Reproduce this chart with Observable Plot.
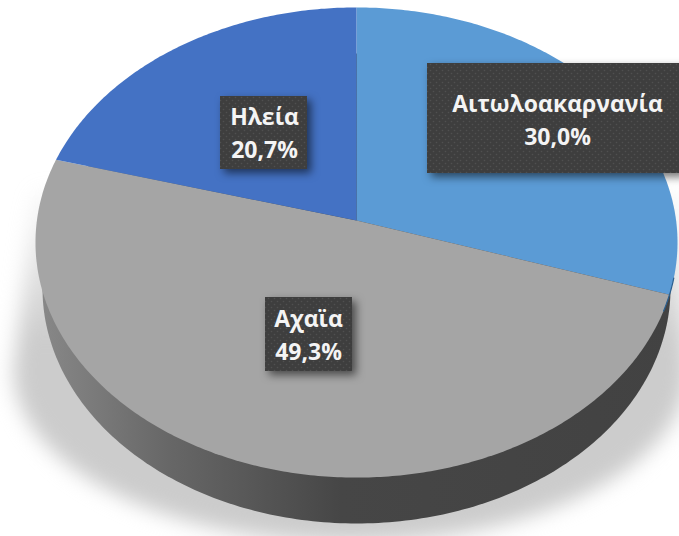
<!DOCTYPE html>
<html lang="el">
<head>
<meta charset="utf-8">
<script src="https://cdn.jsdelivr.net/npm/d3@7"></script>
<script src="https://cdn.jsdelivr.net/npm/@observablehq/plot@0.6"></script>
<style>
html,body{margin:0;padding:0;background:#fff;overflow:hidden}
svg{display:block}
</style>
</head>
<body>
<div id="chart"></div>
<script>
// Data (clockwise from twelve o'clock)
const categories = ["Αιτωλοακαρνανία", "Αχαϊα", "Ηλεία"];
const shares = [30.0, 49.3, 20.7];
const shareLabels = ["30,0%", "49,3%", "20,7%"];
const sliceColors = ["#5B9BD5", "#A5A5A5", "#4472C4"];

// Layout, in pixels
const W = 679, H = 536;
const apex = {x: 356, y: 220, a: 319.6, b: 233, k: -0.0936};
const baseEllipse = {x: 356, y: 288, rx: 314, ry: 235};
const shadowEllipse = {x: 350, y: 370, rx: 337, ry: 172};
const shadowTop = 190, shadowTopX = [34, 678];
const boxX1 = [427, 265, 220], boxX2 = [682, 352, 307];
const boxY1 = [63, 297, 96], boxY2 = [173, 371, 169];
const textX = [557, 308, 264], textY1 = [104, 319, 117], textY2 = [137, 352, 150];

// Pixel positions to the units of the plot's scales
const ux = px => (px - apex.x) / apex.a;
const uy = py => (py - apex.y) / apex.b;

// A pie angle (0 at the top, clockwise) seen in perspective
function onDisc(theta) {
  const X = Math.sin(theta), Y = -Math.cos(theta), d = 1 + apex.k * Y;
  return {x: X / d, y: Y / d};
}

// Slice outlines follow from the shares
const slices = [];
let cum = 0;
categories.forEach((category, i) => {
  const t0 = cum / 100 * 2 * Math.PI;
  cum += shares[i];
  const t1 = cum / 100 * 2 * Math.PI;
  const n = Math.ceil((t1 - t0) * 90);
  slices.push({category, x: 0, y: 0});
  for (let j = 0; j <= n; j++) slices.push({category, ...onDisc(t0 + (t1 - t0) * j / n)});
});

function ellipsePoints(e, from = 0, to = 360) {
  return d3.range(from, to + 1, 1).map(d => {
    const t = d * Math.PI / 180;
    return {x: ux(e.x + e.rx * Math.cos(t)), y: uy(e.y + e.ry * Math.sin(t))};
  });
}

// Shadow: a lower half ellipse that tapers up behind the pie
const shadowPoints = [
  {x: ux(shadowTopX[1]), y: uy(shadowTop)},
  ...ellipsePoints(shadowEllipse, 0, 180),
  {x: ux(shadowTopX[0]), y: uy(shadowTop)}
];

// The thin edge of the first slice where it meets the side wall
const edgeAngle = shares[0] / 100 * 2 * Math.PI;
const sideEdge = d3.range(-4, 4.5, 0.5).map(d => onDisc(edgeAngle + d * Math.PI / 180));

const labels = categories.map((category, i) => ({
  category, share: shareLabels[i],
  x1: ux(boxX1[i]), x2: ux(boxX2[i]), y1: uy(boxY1[i]), y2: uy(boxY2[i]),
  tx: ux(textX[i]), ty1: uy(textY1[i]), ty2: uy(textY2[i])
}));

const textStyle = {
  fill: "#f4f4f4", fontSize: 23, fontWeight: 700,
  fontFamily: "'Open Sans','Noto Sans',sans-serif",
  textAnchor: "middle", lineAnchor: "middle"
};

const svg = Plot.plot({
  width: W, height: H,
  margin: 0,
  style: {background: "#fff", overflow: "hidden"},
  x: {domain: [-1, 1], range: [apex.x - apex.a, apex.x + apex.a], axis: null},
  y: {domain: [-1, 1], range: [apex.y - apex.b, apex.y + apex.b], axis: null},
  color: {domain: categories, range: sliceColors},
  marks: [
    Plot.line(shadowPoints, {x: "x", y: "y", fill: "url(#shadowFade)", stroke: "none", imageFilter: "blur(10px)"}),
    Plot.line(ellipsePoints(baseEllipse), {x: "x", y: "y", fill: "url(#sideFade)", stroke: "none"}),
    Plot.line(slices, {x: "x", y: "y", z: "category", fill: "category", stroke: "none"}),
    Plot.line(sideEdge, {x: "x", y: "y", stroke: "#2a5f8f", strokeWidth: 1.2}),
    Plot.rect(labels, {x1: "x1", x2: "x2", y1: "y1", y2: "y2", fill: "url(#labelDots)",
      imageFilter: "drop-shadow(4px 4px 4px rgba(0,0,0,.55))"}),
    Plot.text(labels, {x: "tx", y: "ty1", text: "category", ...textStyle}),
    Plot.text(labels, {x: "tx", y: "ty2", text: "share", ...textStyle})
  ]
});

// Paint servers used by the fills above
const defs = d3.select(svg).insert("defs", ":first-child");
const side = defs.append("linearGradient").attr("id", "sideFade")
  .attr("gradientUnits", "userSpaceOnUse").attr("x1", 40).attr("x2", 680).attr("y1", 0).attr("y2", 0);
[[0, "#888888"], [0.2, "#676767"], [0.47, "#464646"], [1, "#424242"]].forEach(([o, c]) =>
  side.append("stop").attr("offset", o).attr("stop-color", c));
const fade = defs.append("linearGradient").attr("id", "shadowFade")
  .attr("gradientUnits", "userSpaceOnUse").attr("x1", 0).attr("x2", 0).attr("y1", 190).attr("y2", 340);
[[0, 0.1], [1, 1]].forEach(([o, a]) =>
  fade.append("stop").attr("offset", o).attr("stop-color", "#cccccc").attr("stop-opacity", a));
const dots = defs.append("pattern").attr("id", "labelDots")
  .attr("patternUnits", "userSpaceOnUse").attr("width", 6).attr("height", 6);
dots.append("rect").attr("width", 6).attr("height", 6).attr("fill", "#3e3e3e");
[[1.5, 1.5], [4.5, 4.5]].forEach(([x, y]) =>
  dots.append("circle").attr("cx", x).attr("cy", y).attr("r", 0.8).attr("fill", "#505050"));

document.getElementById("chart").appendChild(svg);
</script>
</body>
</html>
